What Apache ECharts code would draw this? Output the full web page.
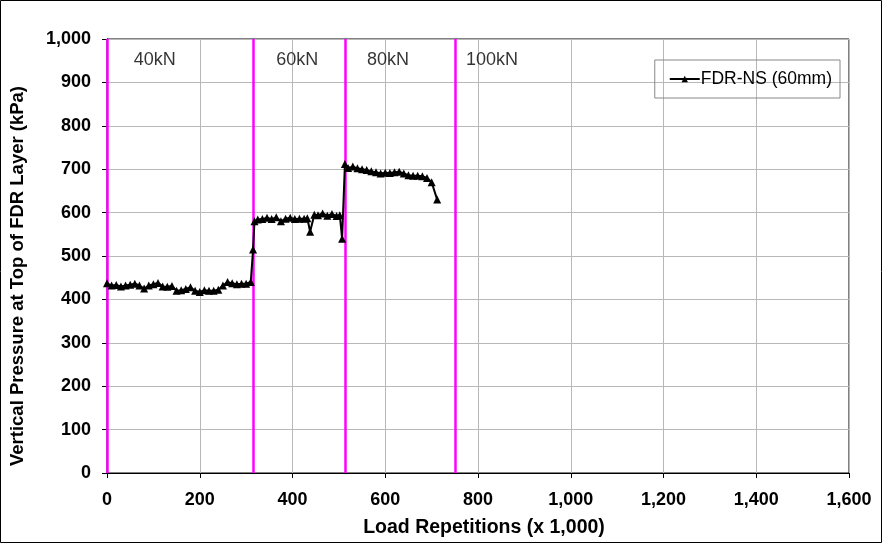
<!DOCTYPE html>
<html><head><meta charset="utf-8">
<script src="https://cdn.jsdelivr.net/npm/echarts@6/dist/echarts.min.js"></script>
<style>html,body{margin:0;padding:0;background:#fff}#c{width:883px;height:544px}</style>
</head><body><div id="c"></div>
<script>
// Load repetitions (x1,000)
const seg1X = [0,10,20,30,40,50,60,70,80,90,100,110,120,130,140,150,160,170,180,190,200,210,220,230,240,250,260,270,280,290,300,310];
const seg1Y = [437,432,433,430,432,434,436,432,425,432,435,438,430,429,431,420,421,424,428,420,417,421,420,420,422,432,440,437,435,436,436,440];
const seg2X = [315,318,325,335,345,355,365,375,385,395,405,415,425,432,438,447,455,465,475,485,495,502,507];
const seg2Y = [515,580,584,585,588,585,589,580,586,588,585,586,586,587,556,595,594,598,593,597,592,594,540];
const seg3X = [513,520,530,540,550,560,570,580,590,600,610,620,630,640,650,660,670,680,690,700,712];
const seg3Y = [712,703,706,702,700,698,695,693,690,692,691,693,694,690,686,685,685,684,680,670,630];
const loadBoundaries = [0, 315, 513, 750];
const loadLabels = ['40kN', '60kN', '80kN', '100kN'];
const loadLabelX = [103, 410, 606, 830];
const loadLabelY = 952;
const seriesName = 'FDR-NS (60mm)';

const xs = seg1X.concat(seg2X, seg3X);
const ys = seg1Y.concat(seg2Y, seg3Y);
const data = xs.map((x, i) => [x, ys[i]]);
const fmt = v => v.toLocaleString('en-US');
const font = 'Liberation Sans, Arial, sans-serif';

const chart = echarts.init(document.getElementById('c'));
chart.setOption({
  animation: false,
  backgroundColor: '#fff',
  textStyle: { fontFamily: font },
  grid: { left: 107, top: 39, width: 742, height: 434, show: true, borderColor: '#000', borderWidth: 1, containLabel: false, outerBoundsMode: 'none' },
  graphic: [{ type: 'rect', shape: { x: 0.5, y: 0.5, width: 881, height: 542 }, style: { fill: 'none', stroke: '#000', lineWidth: 1 }, silent: true }],
  legend: {
    data: [seriesName],
    right: 43, top: 60, orient: 'vertical',
    padding: [10, 8, 10, 14],
    borderColor: '#888', borderWidth: 1,
    itemWidth: 30, itemHeight: 8, itemGap: 4,
    textStyle: { fontFamily: font, fontSize: 17.5, color: '#000', padding: [0, 0, 0, -4] }
  },
  xAxis: {
    type: 'value', min: 0, max: 1600, interval: 200,
    name: 'Load Repetitions (x 1,000)', nameLocation: 'middle', nameGap: 45,
    nameTextStyle: { fontFamily: font, fontSize: 19.5, fontWeight: 'bold', color: '#000', padding: [0, 0, 0, 12] },
    axisLine: { show: true, onZero: false, lineStyle: { color: '#000', width: 1 } },
    axisTick: { show: true, length: 5, lineStyle: { color: '#000' } },
    axisLabel: { formatter: fmt, fontFamily: font, fontSize: 18, fontWeight: 'bold', color: '#000', margin: 18 },
    splitLine: { show: true, lineStyle: { color: '#b8b8b8', width: 1 } }
  },
  yAxis: {
    type: 'value', min: 0, max: 1000, interval: 100,
    name: 'Vertical Pressure at Top of FDR Layer (kPa)', nameLocation: 'middle', nameGap: 80,
    nameTextStyle: { fontFamily: font, fontSize: 18.5, fontWeight: 'bold', color: '#000', padding: [0, 40, 0, 0] },
    axisLine: { show: true, lineStyle: { color: '#000', width: 1 } },
    axisTick: { show: true, length: 5, lineStyle: { color: '#000' } },
    axisLabel: { formatter: fmt, fontFamily: font, fontSize: 18, fontWeight: 'bold', color: '#000', margin: 16 },
    splitLine: { show: true, lineStyle: { color: '#b8b8b8', width: 1 } }
  },
  series: [
    {
      name: seriesName, type: 'line', data: data,
      symbol: 'triangle', symbolSize: 8, showAllSymbol: true,
      lineStyle: { color: '#000', width: 2 },
      itemStyle: { color: '#000' },
      z: 5,
      markLine: {
        silent: true, symbol: 'none', animation: false,
        label: { show: false },
        lineStyle: { color: '#ff00ff', width: 2.5, type: 'solid' },
        data: loadBoundaries.map(v => ({ xAxis: v }))
      }
    },
    {
      name: 'labels', type: 'scatter', symbolSize: 0, silent: true,
      data: loadLabelX.map((x, i) => ({ value: [x, loadLabelY], label: { formatter: loadLabels[i] } })),
      label: { show: true, position: 'inside', fontFamily: font, fontSize: 18, color: '#000' }
    }
  ]
});
</script></body></html>
